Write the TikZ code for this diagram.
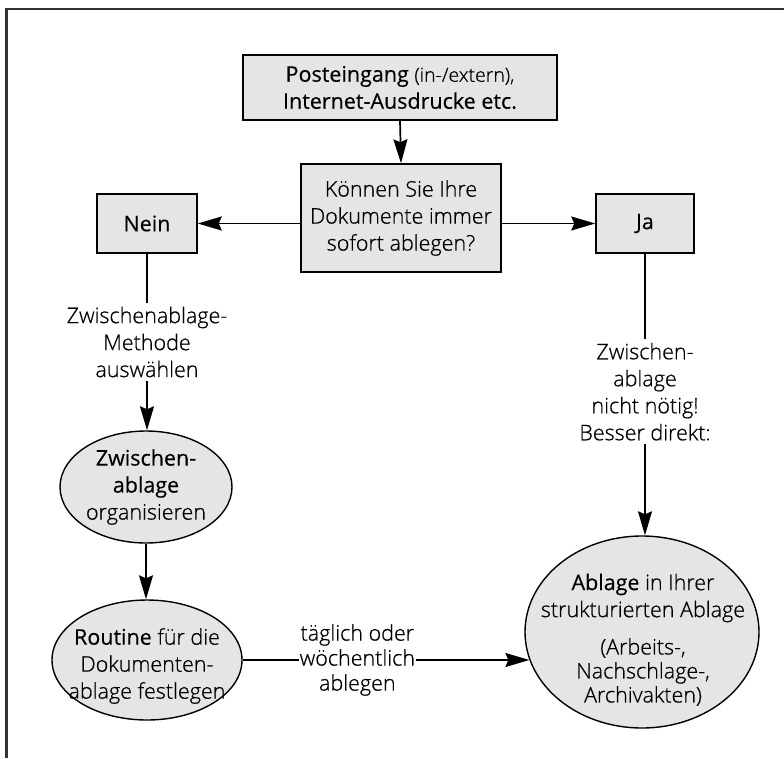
\documentclass[tikz,border=0pt]{standalone}
\usepackage{fontspec}
\setmainfont{Open Sans Light}[UprightFeatures={FakeBold=0.7}, BoldFont={Open Sans}, BoldFeatures={FakeBold=0.3}]
\usetikzlibrary{arrows.meta,shapes.geometric}
\definecolor{boxgray}{RGB}{229,229,229}
\definecolor{framegray}{RGB}{50,50,50}
\begin{document}
\begin{tikzpicture}[x=1pt,y=-1pt,
  font=\fontsize{21.5}{27}\selectfont,
  box/.style={draw, line width=1.5pt, fill=boxgray, inner sep=0pt, align=center},
  oval/.style={draw, line width=1.4pt, fill=boxgray, ellipse, inner sep=0pt},
  txt/.style={align=center, inner sep=0pt},
  lbl/.style={align=center, fill=white, inner xsep=1pt, inner ysep=4pt},
  arr/.style={line width=1.7pt, -{Stealth[length=24pt,width=14pt,inset=3pt]}},
  ln/.style={line width=1.7pt}]
\useasboundingbox (0,0) rectangle (784,758);
\draw[line width=2.2pt, framegray] (6.5,758) -- (6.5,9) -- (784,9);

\node[box, minimum width=314pt, minimum height=65pt] (post) at (400,87.5)
  {\textbf{Posteingang} {\fontsize{19.5}{27}\selectfont (in-/extern),}\\\textbf{Internet-Ausdrucke etc.}};
\node[box, minimum width=200pt, minimum height=108pt] (frage) at (401,218)
  {Können Sie Ihre\\Dokumente immer\\sofort ablegen?};
\node[box, minimum width=100pt, minimum height=59pt] (nein) at (147,223.5) {\textbf{Nein}};
\node[box, minimum width=98pt, minimum height=59pt] (ja) at (645,223.5) {\textbf{Ja}};

\node[oval, minimum width=172pt, minimum height=112pt] (zw) at (146,487) {};
\node[txt] (zwt) at (146,487) {\textbf{Zwischen-}\\\textbf{ablage}\\organisieren};

\node[oval, minimum width=190pt, minimum height=120pt] (rout) at (147,660) {};
\node[txt] (routt) at (147,666) {\textbf{Routine} für die\\Dokumenten-\\ablage festlegen};

\node[oval, minimum width=234pt, minimum height=192pt] (abl) at (642,632) {};
\node[txt] (ablt1) at (643,598) {\textbf{Ablage} in Ihrer\\strukturierten Ablage};
\node[txt, font=\fontsize{21.5}{24}\selectfont] (ablt2) at (643,672) {(Arbeits-,\\Nachschlage-,\\Archivakten)};

\draw[arr] (post.south) -- (frage.north);
\draw[arr] (frage.west |- nein.east) -- (nein.east);
\draw[arr] (frage.east |- ja.west) -- (ja.west);
\draw[arr] (nein.south) -- node[lbl] (nl) {Zwischenablage-\\Methode\\auswählen} (nein.south |- zw.north);
\draw[arr] (ja.south) -- node[lbl, pos=0.49] (jl) {Zwischen-\\ablage\\nicht nötig!\\Besser direkt:} (ja.south |- abl.north);
\draw[arr] (zw.south) -- (zw.south |- rout.north);
\draw[arr] (rout.east) -- node[lbl, pos=0.40, font=\fontsize{21.5}{25}\selectfont] (hl) {täglich oder\\wöchentlich\\ablegen} (rout.east -| abl.194);
\end{tikzpicture}
\end{document}
